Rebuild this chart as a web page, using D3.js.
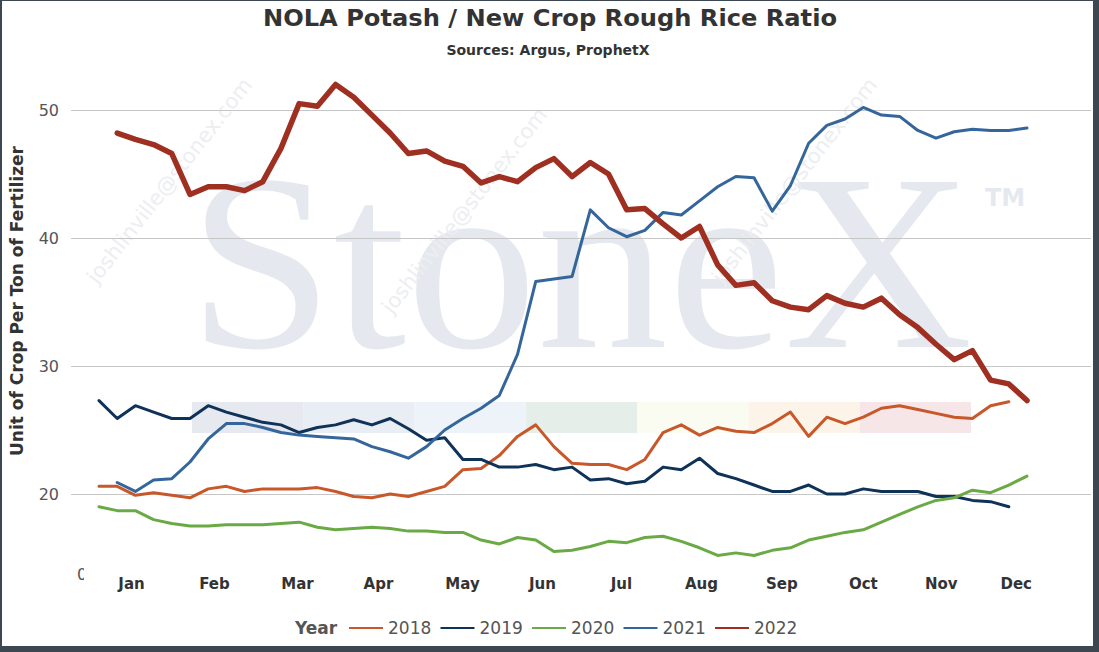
<!DOCTYPE html>
<html>
<head>
<meta charset="utf-8">
<script src="https://cdn.jsdelivr.net/npm/d3@7"></script>
<style>
	body { margin: 0; background: #ffffff; }
	svg { display: block; }
</style>
</head>
<body>
<svg id="chart"></svg>
<script>
(function(){

	//Chart data: weekly ratio per year, index = week of the year (0 based)
	var years = ["2018", "2019", "2020", "2021", "2022"];
	var colors = ["#c8582a", "#0f3358", "#6aaa45", "#35669b", "#9f2f20"];
	var months = ["Jan", "Feb", "Mar", "Apr", "May", "Jun", "Jul", "Aug", "Sep", "Oct", "Nov", "Dec"];
	var monthTicks = [1.76, 6.32, 10.88, 15.33, 19.95, 24.34, 28.68, 33.08, 37.5, 41.98, 46.26, 50.38];
	var yTicks = [20, 30, 40, 50];

	var ratio2018 = [20.6, 20.6, 19.9, 20.1, 19.9, 19.7, 20.4, 20.6, 20.2, 20.4, 20.4, 20.4, 20.5, 20.2, 19.8, 19.7, 20.0, 19.8, 20.2, 20.6,
		21.9, 22.0, 23.0, 24.5, 25.4, 23.7, 22.4, 22.3, 22.3, 21.9, 22.7, 24.8, 25.4, 24.6, 25.2, 24.9, 24.8, 25.5, 26.4, 24.5,
		26.0, 25.5, 26.0, 26.7, 26.9, 26.6, 26.3, 26.0, 25.9, 26.9, 27.2];
	var ratio2019 = [27.3, 25.9, 26.9, 26.4, 25.9, 25.9, 26.9, 26.4, 26.0, 25.6, 25.4, 24.8, 25.2, 25.4, 25.8, 25.4, 25.9, 25.1, 24.2, 24.4,
		22.7, 22.7, 22.1, 22.1, 22.3, 21.9, 22.1, 21.1, 21.2, 20.8, 21.0, 22.1, 21.9, 22.8, 21.6, 21.2, 20.7, 20.2, 20.2, 20.7,
		20.0, 20.0, 20.4, 20.2, 20.2, 20.2, 19.8, 19.8, 19.5, 19.4, 19.0];
	var ratio2020 = [19.0, 18.7, 18.7, 18.0, 17.7, 17.5, 17.5, 17.6, 17.6, 17.6, 17.7, 17.8, 17.4, 17.2, 17.3, 17.4, 17.3, 17.1, 17.1, 17.0,
		17.0, 16.4, 16.1, 16.6, 16.4, 15.5, 15.6, 15.9, 16.3, 16.2, 16.6, 16.7, 16.3, 15.8, 15.2, 15.4, 15.2, 15.6, 15.8, 16.4,
		16.7, 17.0, 17.2, 17.8, 18.4, 19.0, 19.5, 19.7, 20.3, 20.1, 20.7, 21.4];
	var ratio2021 = [null, 20.9, 20.2, 21.1, 21.2, 22.5, 24.3, 25.5, 25.5, 25.2, 24.8, 24.6, 24.5, 24.4, 24.3, 23.7, 23.3, 22.8, 23.7, 25.0,
		25.9, 26.7, 27.7, 30.9, 36.6, 36.8, 37.0, 42.2, 40.8, 40.1, 40.6, 42.0, 41.8, 42.9, 44.0, 44.8, 44.7, 42.1, 44.1, 47.4,
		48.8, 49.3, 50.2, 49.6, 49.5, 48.4, 47.8, 48.3, 48.5, 48.4, 48.4, 48.6];
	var ratio2022 = [null, 48.2, 47.7, 47.3, 46.6, 43.4, 44.0, 44.0, 43.7, 44.4, 47.0, 50.5, 50.3, 52.0, 51.0, 49.6, 48.2, 46.6, 46.8, 46.0,
		45.6, 44.3, 44.8, 44.4, 45.5, 46.2, 44.8, 45.9, 45.0, 42.2, 42.3, 41.1, 40.0, 40.9, 37.9, 36.3, 36.5, 35.1, 34.6, 34.4,
		35.5, 34.9, 34.6, 35.3, 34.0, 33.0, 31.7, 30.5, 31.2, 28.9, 28.6, 27.3];

	//SVG Configurations
	var svgWidth = 1099;
	var svgHeight = 652;
	var plotLeft = 71, plotRight = 1091;

	var svg = d3.select("#chart")
		.attr("width", svgWidth)
		.attr("height", svgHeight)
		.style("font-family", "'DejaVu Sans', Verdana, sans-serif");

	//frame
	svg.append("rect").attr("width", svgWidth).attr("height", svgHeight).attr("fill", "#3c4751");
	svg.append("rect").attr("x", 2).attr("y", 1).attr("width", 1091).attr("height", 645).attr("fill", "#ffffff");

	var x = d3.scaleLinear().domain([0, 51]).range([99, 1027]);
	var y = d3.scaleLinear().domain([20, 50]).range([494, 110]);

	var series = [ratio2018, ratio2019, ratio2020, ratio2021, ratio2022].map(function(vals, i){
		return {year: years[i], color: colors[i], values: vals};
	});

	drawWatermark();
	drawGrid();
	drawLines();
	drawAxes();
	drawTitles();
	drawLegend();

	//StoneX logo + email watermark behind the lines
	function drawWatermark(){
		var wm = svg.append("g").attr("id", "watermark");

		var bandColors = ["#e6e9f0", "#e9edf4", "#eef3f9", "#e5eee8", "#fafbf1", "#fdf4e9", "#f7e6e8"];
		wm.selectAll(".band")
			.data(bandColors)
			.enter()
			.append("rect")
			.attr("x", function(d, i){ return 192 + i * 111.3; })
			.attr("y", 402)
			.attr("width", 111.3)
			.attr("height", 31)
			.attr("fill", function(d){ return d; });

		wm.append("text")
			.attr("x", 188)
			.attr("y", 347)
			.attr("font-family", "'Liberation Serif', 'DejaVu Serif', serif")
			.attr("font-size", 252)
			.attr("textLength", 785)
			.attr("lengthAdjust", "spacingAndGlyphs")
			.attr("fill", "#e5e9ef")
			.text("StoneX");

		wm.append("text")
			.attr("x", 985)
			.attr("y", 206)
			.attr("font-size", 24)
			.attr("font-weight", "bold")
			.attr("fill", "#e5e9ef")
			.text("TM");

		var spots = [[175, 185], [470, 215], [800, 185]];
		wm.selectAll(".mail")
			.data(spots)
			.enter()
			.append("text")
			.attr("transform", function(d){ return "translate(" + d[0] + "," + d[1] + ") rotate(-52)"; })
			.attr("text-anchor", "middle")
			.attr("font-size", 21)
			.attr("fill", "#eceef1")
			.text("joshlinville@stonex.com");
	}

	function drawGrid(){
		svg.append("g")
			.selectAll("line")
			.data(yTicks)
			.enter()
			.append("line")
			.attr("x1", plotLeft)
			.attr("x2", plotRight)
			.attr("y1", function(d){ return Math.round(y(d)) + 0.5; })
			.attr("y2", function(d){ return Math.round(y(d)) + 0.5; })
			.attr("stroke", "#c6c6c6")
			.attr("stroke-width", 1);
	}

	//Draws each year as a path, 2022 on top and thicker
	function drawLines(){
		var line = d3.line()
			.defined(function(d){ return d !== null; })
			.x(function(d, i){ return x(i); })
			.y(function(d){ return y(d); });

		svg.append("g")
			.selectAll("path")
			.data(series)
			.enter()
			.append("path")
			.attr("d", function(d){ return line(d.values); })
			.attr("fill", "none")
			.attr("stroke", function(d){ return d.color; })
			.attr("stroke-width", function(d){ return d.year == "2022" ? 5.5 : 3; })
			.attr("stroke-linejoin", "round")
			.attr("stroke-linecap", "round");
	}

	function drawAxes(){
		var yAxis = d3.axisLeft(y).tickValues(yTicks).tickSize(0).tickPadding(0);
		var gy = svg.append("g")
			.attr("transform", "translate(59,0)")
			.call(yAxis);
		gy.select(".domain").remove();
		gy.selectAll("text")
			.attr("font-size", 16)
			.attr("font-family", "'DejaVu Sans', Verdana, sans-serif")
			.attr("fill", "#555555");

		//half hidden zero label at the foot of the axis
		svg.append("clipPath").attr("id", "zeroClip")
			.append("rect").attr("x", 0).attr("y", 540).attr("width", 84).attr("height", 60);
		svg.append("text")
			.attr("clip-path", "url(#zeroClip)")
			.attr("x", 77)
			.attr("y", 580)
			.attr("font-size", 16)
			.attr("fill", "#555555")
			.text("0");

		var xAxis = d3.axisBottom(x)
			.tickValues(monthTicks)
			.tickFormat(function(d, i){ return months[i]; })
			.tickSize(0)
			.tickPadding(0);
		var gx = svg.append("g")
			.attr("transform", "translate(0,578)")
			.call(xAxis);
		gx.select(".domain").remove();
		gx.selectAll("text")
			.attr("font-size", 15)
			.attr("font-weight", "bold")
			.attr("font-family", "'DejaVu Sans', Verdana, sans-serif")
			.attr("fill", "#333333");

		svg.append("text")
			.attr("transform", "translate(23,301) rotate(-90)")
			.attr("text-anchor", "middle")
			.attr("font-size", 17)
			.attr("font-weight", "bold")
			.attr("fill", "#333333")
			.text("Unit of Crop Per Ton of Fertilizer");
	}

	function drawTitles(){
		svg.append("text")
			.attr("x", 550)
			.attr("y", 26)
			.attr("text-anchor", "middle")
			.attr("font-size", 23)
			.attr("font-weight", "bold")
			.attr("textLength", 574)
			.attr("lengthAdjust", "spacingAndGlyphs")
			.attr("fill", "#333333")
			.text("NOLA Potash / New Crop Rough Rice Ratio");

		svg.append("text")
			.attr("x", 548)
			.attr("y", 55)
			.attr("text-anchor", "middle")
			.attr("font-size", 14)
			.attr("font-weight", "bold")
			.attr("fill", "#333333")
			.text("Sources: Argus, ProphetX");
	}

	function drawLegend(){
		var legend = svg.append("g").attr("transform", "translate(295,634)");
		legend.append("text")
			.attr("x", 0)
			.attr("y", 0)
			.attr("font-size", 17)
			.attr("font-weight", "bold")
			.attr("fill", "#555555")
			.text("Year");

		var items = legend.selectAll(".item")
			.data(series)
			.enter()
			.append("g")
			.attr("transform", function(d, i){ return "translate(" + (54 + i * 91.5) + ",0)"; });
		items.append("line")
			.attr("x1", 0).attr("x2", 34)
			.attr("y1", -6).attr("y2", -6)
			.attr("stroke", function(d){ return d.color; })
			.attr("stroke-width", 2);
		items.append("text")
			.attr("x", 39)
			.attr("y", 0)
			.attr("font-size", 17)
			.attr("fill", "#555555")
			.text(function(d){ return d.year; });
	}

})();
</script>
</body>
</html>
